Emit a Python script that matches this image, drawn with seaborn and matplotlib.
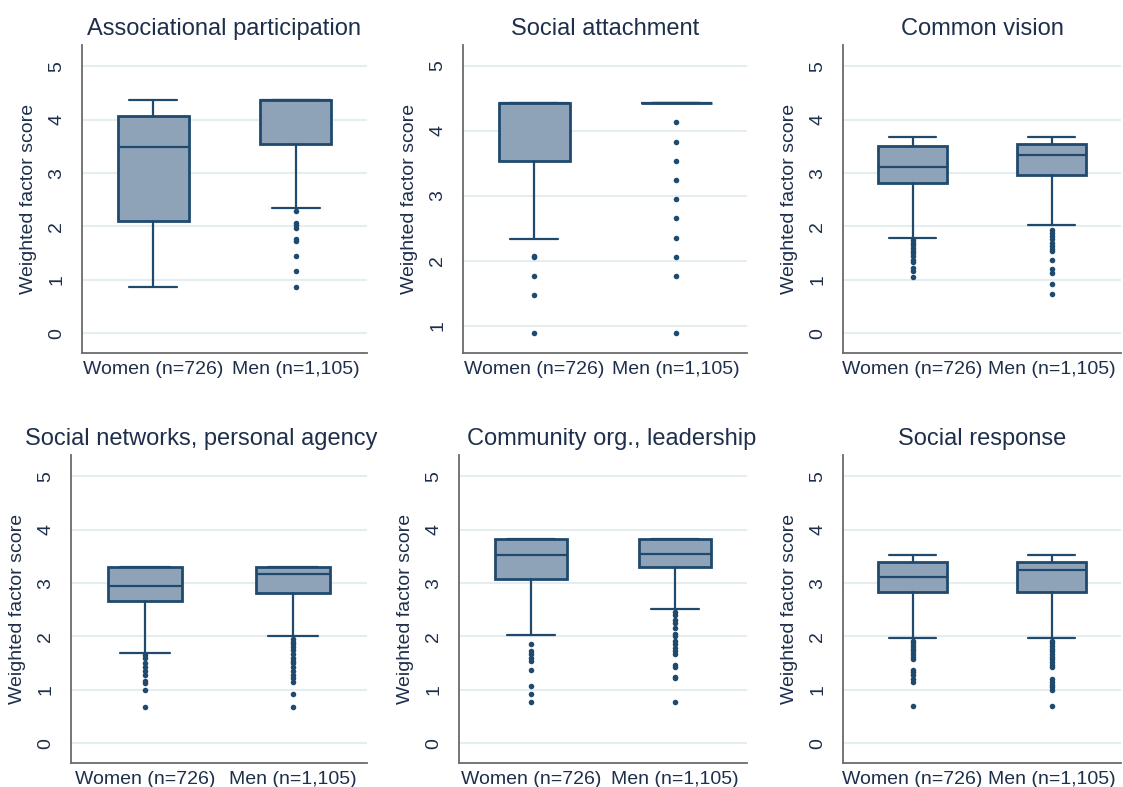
import numpy as np
import pandas as pd
import matplotlib
matplotlib.use("Agg")
import matplotlib.pyplot as plt
import seaborn as sns

# ─── Data ───────────────────────────────────────────────────
titles = ["Associational participation", "Social attachment", "Common vision",
          "Social networks, personal agency", "Community org., leadership",
          "Social response"]
groups = ["Women (n=726)", "Men (n=1,105)"]

women_lo  = [0.87, 2.34, 1.79, 1.70, 2.03, 1.97]
women_q1  = [2.10, 3.54, 2.82, 2.66, 3.07, 2.84]
women_med = [3.49, 4.43, 3.12, 2.94, 3.53, 3.12]
women_q3  = [4.07, 4.43, 3.50, 3.30, 3.82, 3.40]
women_hi  = [4.37, 4.43, 3.68, 3.30, 3.82, 3.53]

men_lo  = [2.34, 4.43, 2.02, 2.01, 2.51, 1.97]
men_q1  = [3.55, 4.43, 2.97, 2.81, 3.30, 2.84]
men_med = [4.37, 4.43, 3.33, 3.17, 3.55, 3.25]
men_q3  = [4.37, 4.43, 3.55, 3.30, 3.82, 3.40]
men_hi  = [4.37, 4.43, 3.68, 3.30, 3.82, 3.53]

women_out = [
    [],
    [2.07, 2.05, 1.77, 1.47, 0.89],
    [1.74, 1.70, 1.65, 1.60, 1.55, 1.50, 1.45, 1.37, 1.33, 1.22, 1.17, 1.06],
    [1.65, 1.60, 1.50, 1.42, 1.35, 1.27, 1.17, 1.12, 1.00, 0.67],
    [1.85, 1.72, 1.67, 1.60, 1.55, 1.37, 1.07, 0.92, 0.77],
    [1.92, 1.87, 1.82, 1.77, 1.72, 1.67, 1.62, 1.57, 1.38, 1.33, 1.28, 1.20, 1.15, 0.70],
]
men_out = [
    [2.29, 2.07, 2.03, 1.98, 1.77, 1.72, 1.45, 1.16, 0.87],
    [4.13, 3.83, 3.53, 3.24, 2.95, 2.65, 2.35, 2.06, 1.77, 0.89],
    [1.93, 1.88, 1.82, 1.76, 1.70, 1.64, 1.58, 1.55, 1.38, 1.20, 1.12, 0.92, 0.73],
    [1.95, 1.90, 1.85, 1.80, 1.74, 1.67, 1.60, 1.55, 1.50, 1.42, 1.35, 1.28,
     1.22, 1.15, 0.92, 0.67],
    [2.45, 2.40, 2.30, 2.25, 2.15, 2.05, 2.00, 1.92, 1.85, 1.78, 1.72, 1.67,
     1.47, 1.42, 1.25, 1.22, 0.77],
    [1.92, 1.87, 1.82, 1.77, 1.72, 1.67, 1.62, 1.57, 1.52, 1.47, 1.42, 1.20,
     1.15, 1.10, 1.05, 1.00, 0.70],
]

# ─── Style ─────────────────────────────────────────────────
sns.set_style("white")
plt.rcParams['font.family'] = ['Liberation Sans', 'DejaVu Sans']

NAVY  = '#1f4a6e'
FILL  = '#8fa3b8'
TEXT  = '#1e2f4b'
GRID  = '#e6edf0'
SPINE = '#6b6b6b'

W, H = 1123, 787
fig = plt.figure(figsize=(W / 100, H / 100), dpi=100)
fig.patch.set_facecolor('white')

# axes boxes in pixels: left, right, top, bottom
boxes_px = [(82, 367, 45, 353), (463, 747, 45, 353), (843, 1121, 45, 353),
            (71, 367, 455, 763), (459, 747, 455, 763), (843, 1121, 455, 763)]
title_x = [0.5, 0.5, 0.5, 0.44, 0.53, 0.5]

for i, (l, r, t, b) in enumerate(boxes_px):
    ax = fig.add_axes([l / W, 1 - b / H, (r - l) / W, (b - t) / H])

    # y grid first so it sits below the boxes
    if i == 1:
        ylim, yticks = (0.58, 5.32), [1, 2, 3, 4, 5]
    else:
        ylim, yticks = (-0.37, 5.4), [0, 1, 2, 3, 4, 5]
    for yt in yticks:
        ax.axhline(yt, color=GRID, linewidth=1.5, zorder=0)

    stats = [
        dict(whislo=women_lo[i], q1=women_q1[i], med=women_med[i],
             q3=women_q3[i], whishi=women_hi[i], fliers=[]),
        dict(whislo=men_lo[i], q1=men_q1[i], med=men_med[i],
             q3=men_q3[i], whishi=men_hi[i], fliers=[]),
    ]
    ax.bxp(stats, positions=[0, 1], widths=0.5, showfliers=False,
           patch_artist=True,
           boxprops=dict(facecolor=FILL, edgecolor=NAVY, linewidth=2.0),
           medianprops=dict(color=NAVY, linewidth=1.6),
           whiskerprops=dict(color=NAVY, linewidth=1.6),
           capprops=dict(color=NAVY, linewidth=1.6),
           capwidths=0.34, zorder=2)

    # outside values
    out = pd.DataFrame({
        'group': [groups[0]] * len(women_out[i]) + [groups[1]] * len(men_out[i]),
        'score': women_out[i] + men_out[i],
    })
    sns.stripplot(data=out, x='group', y='score', order=groups, jitter=False,
                  color=NAVY, size=4.0, linewidth=0, ax=ax, zorder=3)

    ax.set_xlim(-0.5, 1.5)
    ax.set_ylim(*ylim)
    ax.set_yticks(yticks)
    ax.set_xticks([0, 1])
    ax.set_xticklabels(groups)
    ax.set_xlabel('')
    ax.set_ylabel('Weighted factor score', fontsize=14, color=TEXT, labelpad=8)
    ax.set_title(titles[i], fontsize=17, color=TEXT, pad=7, x=title_x[i])

    ax.tick_params(axis='y', length=7, width=1.2, color=SPINE, pad=5,
                   labelsize=14, labelcolor=TEXT, labelrotation=90)
    for lbl in ax.get_yticklabels():
        lbl.set_va('center')
    ax.tick_params(axis='x', length=0, pad=6, labelsize=14, labelcolor=TEXT)

    for side in ['top', 'right']:
        ax.spines[side].set_visible(False)
    for side in ['left', 'bottom']:
        ax.spines[side].set_color(SPINE)
        ax.spines[side].set_linewidth(1.3)

plt.savefig('out.png', dpi=100, facecolor='white')
